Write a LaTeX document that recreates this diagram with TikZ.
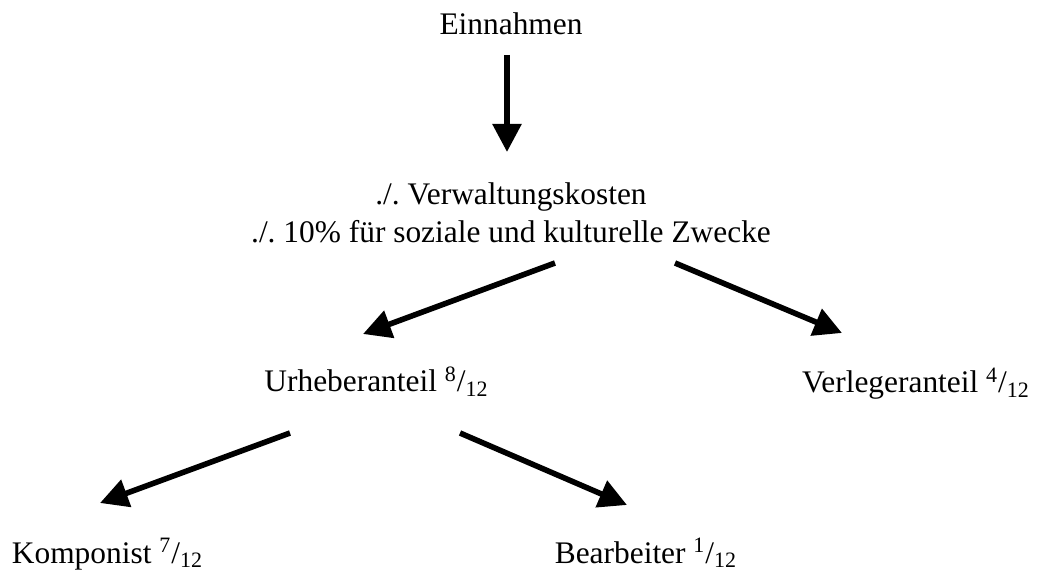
\documentclass[tikz,border=0pt]{standalone}
\usepackage{fontspec}
\setmainfont{Liberation Serif}
\usetikzlibrary{arrows.meta,calc}
\frenchspacing
\begin{document}
\begin{tikzpicture}[x=0.5pt,y=-0.5pt,
		every node/.style={inner sep=0pt,anchor=base,font=\fontsize{15.7pt}{19pt}\selectfont},
		pfeil/.style={line width=2.8pt,-{Triangle[width=14pt,length=14pt]}}]
			\useasboundingbox (0,0) rectangle (1039,572);
			\node (ein) at (511,35) {Einnahmen};
			\node[align=center] (kost) at (511,243) {./. Verwaltungskosten\\./. 10\% für soziale und kulturelle Zwecke};
			\node (urh) at (376.5,392) {Urheberanteil \textsuperscript{8}/\textsubscript{12}};
			\node (verl) at (916,393) {Verlegeranteil \textsuperscript{4}/\textsubscript{12}};
			\node (komp) at (107.5,563) {Komponist \textsuperscript{7}/\textsubscript{12}};
			\node (bearb) at (646,563) {Bearbeiter \textsuperscript{1}/\textsubscript{12}};
			\draw[pfeil] ($(ein.base)+(-4,20)$) to ($(kost.base)+(-4,-91)$);
			\draw[pfeil] ($(kost.base)+(44,20)$) to ($(urh.base)+(-13.5,-58)$);
			\draw[pfeil] ($(kost.base)+(164,20)$) to ($(verl.base)+(-74,-60)$);
			\draw[pfeil] ($(urh.base)+(-86.5,41)$) to ($(komp.base)+(-7.5,-60)$);
			\draw[pfeil] ($(urh.base)+(83.5,41)$) to ($(bearb.base)+(-19,-58)$);
		\end{tikzpicture}
\end{document}
